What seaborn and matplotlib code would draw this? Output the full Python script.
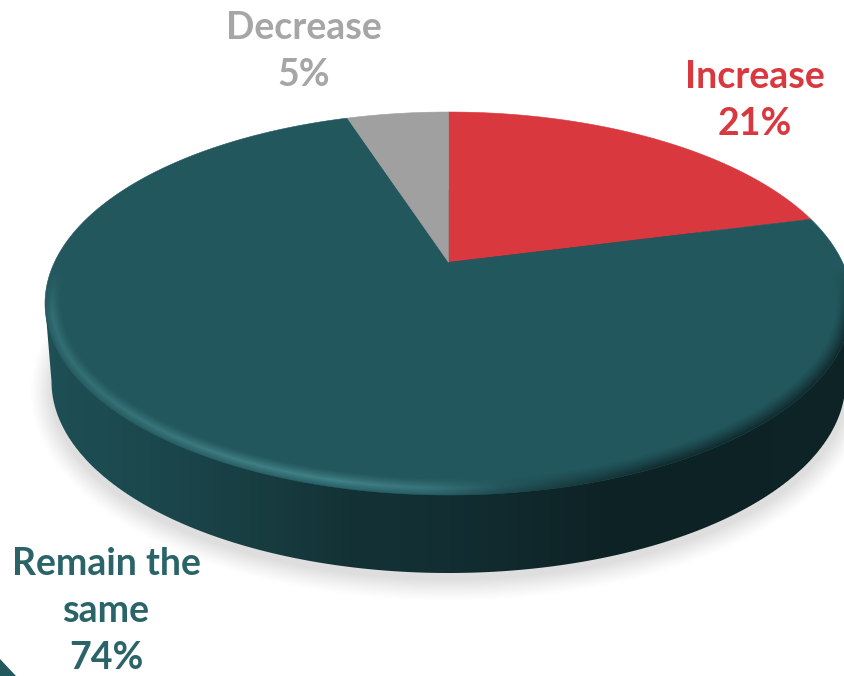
import numpy as np
import matplotlib
matplotlib.use("Agg")
import matplotlib.pyplot as plt
from matplotlib.patches import Polygon
import seaborn as sns

# Survey shares, clockwise from twelve o'clock
categories = ["Increase", "Remain the\nsame", "Decrease"]
shares = [21, 74, 5]
slice_colors = ["#d9383f", "#22575d", "#a0a0a0"]
label_colors = ["#d9383f", "#2a6469", "#a6a6a6"]
label_anchors = [(755, 77), (106, 564), (304, 28)]

sns.set_theme(style="white", rc={"figure.facecolor": "white", "axes.facecolor": "white"})
plt.rcParams["font.family"] = ["Lato", "DejaVu Sans"]
palette = sns.color_palette(slice_colors)

W, H = 845, 676
fig = plt.figure(figsize=(W / 100, H / 100), dpi=100)
ax = fig.add_axes([0, 0, 1, 1])

# Disc geometry in pixels
CX, CY, A, B = 448.5, 303.5, 403.5, 191.5
DEPTH = 78.0
A_BOTTOM = 397.0
TILT = 0.215  # perspective shift of the pie centre along the minor axis


def disc_point(theta):
    """Project a rim point, angle clockwise from top, with perspective."""
    u, v = np.sin(theta), np.cos(theta)
    denom = 1 + TILT * v
    return (CX + A * u * np.sqrt(1 - TILT**2) / denom,
            CY - B * (v + TILT) / denom)


def ellipse_distance(x, y, cx, cy, a, b):
    """Approximate signed pixel distance to an ellipse, negative inside."""
    u, v = (x - cx) / a, (y - cy) / b
    f = np.sqrt(u**2 + v**2) + 1e-9
    grad = np.sqrt((u / a) ** 2 + (v / b) ** 2) / f + 1e-9
    return (f - 1) / grad


yy, xx = np.mgrid[0.5:H, 0.5:W]
canvas = np.ones((H, W, 3))


def paint(rgb, alpha):
    global canvas
    canvas = canvas * (1 - alpha[..., None]) + np.asarray(rgb) * alpha[..., None]


# Soft shadow under the disc
shadow_d = ellipse_distance(xx, yy, CX, CY + 88, A + 3, B + 6)
shadow_alpha = np.clip((12 - shadow_d) / 22, 0, 1) ** 1.2
paint(np.array([222, 222, 222]) / 255, shadow_alpha)

# Side wall, darkening from left to right
wall_x = [40, 150, 250, 350, 450, 600, 700, 850]
wall_rgb = np.array([[30, 80, 86], [27, 72, 77], [24, 62, 66], [20, 50, 54],
                     [18, 46, 50], [14, 35, 38], [13, 34, 37], [14, 36, 39]]) / 255
wall = np.stack([np.interp(xx, wall_x, wall_rgb[:, i]) for i in range(3)], axis=-1)
frac = np.clip((yy - CY) / DEPTH, 0, 1)
half_width = A + (A_BOTTOM - A) * frac
side_d = np.abs(xx - CX) - half_width
side_d = np.where((yy >= CY) & (yy <= CY + DEPTH), side_d, 1e3)
bottom_d = ellipse_distance(xx, yy, CX, CY + DEPTH, A_BOTTOM, B)
wall_alpha = np.clip(0.5 - np.minimum(side_d, bottom_d), 0, 1)
canvas = canvas * (1 - wall_alpha[..., None]) + wall * wall_alpha[..., None]

ax.imshow(canvas, extent=(0, W, H, 0), interpolation="nearest", zorder=0, aspect="auto")

# Top face slices, built from the shares
edges = np.cumsum([0] + shares) / sum(shares) * 2 * np.pi
hub = (CX, CY - B * TILT)
for start, stop, color in zip(edges[:-1], edges[1:], palette):
    theta = np.linspace(start, stop, 240)
    px, py = disc_point(theta)
    ax.add_patch(Polygon(np.column_stack([np.r_[hub[0], px], np.r_[hub[1], py]]),
                         closed=True, facecolor=color, edgecolor=color, lw=0.4, zorder=2))

# Rim bevel: a highlight along the lower left, a dark fade along the lower right
top_d = ellipse_distance(xx, yy, CX, CY, A, B)
inner = -top_d
lower = np.clip((yy - 270) / 45, 0, 1)
light = np.interp(xx, [40, 100, 250, 340, 420, 500, 560], [0.55, 0.6, 0.95, 1, 0.75, 0.15, 0])
dark = np.interp(xx, [440, 560, 660, 850], [0, 0.6, 1, 1])
band = np.clip(1 - np.abs(inner - 7) / 10, 0, 1) ** 1.2
fade = np.clip(1 - (inner + 2) / 18, 0, 1) ** 1.2
bevel = np.zeros((H, W, 4))
bevel_light = np.array([66, 130, 136]) / 255
bevel_dark = np.array([14, 35, 38]) / 255
a_light = band * light * lower
a_dark = fade * dark * lower
a_total = np.clip(a_light + a_dark, 0, 1)
mix = (a_light / (a_light + a_dark + 1e-6))[..., None]
bevel[..., :3] = bevel_light * mix + bevel_dark * (1 - mix)
bevel[..., 3] = a_total * np.clip(0.5 - top_d, 0, 1)
ax.imshow(bevel, extent=(0, W, H, 0), interpolation="bilinear", zorder=3, aspect="auto")

# Labels
LINE_STEP = 47
for name, share, color, (lx, ly) in zip(categories, shares, label_colors, label_anchors):
    lines = name.split("\n") + [f"{share}%"]
    for i, line in enumerate(lines):
        ax.text(lx, ly + i * LINE_STEP, line, color=color, fontsize=27, fontweight="bold",
                ha="center", va="center", zorder=5)

# Corner ornament at the lower left
ax.add_patch(Polygon([(0, 659), (16, 676), (0, 676)], closed=True,
                     facecolor="#22595f", edgecolor="none", zorder=4))

ax.set_xlim(0, W)
ax.set_ylim(H, 0)
ax.axis("off")
fig.savefig("out.png", dpi=100)
